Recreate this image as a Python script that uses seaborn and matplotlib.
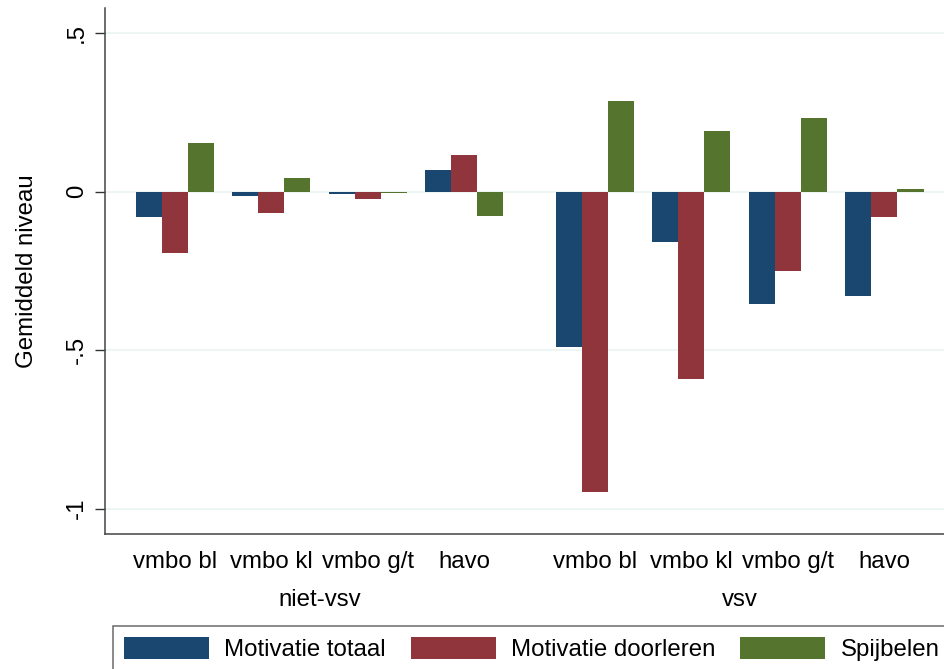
import seaborn as sns
import matplotlib.pyplot as plt
import matplotlib.transforms as mtransforms
import pandas as pd
import numpy as np

# data
schooltypes = ['vmbo bl', 'vmbo kl', 'vmbo g/t', 'havo']
groepen = ['niet-vsv', 'vsv']
reeksen = ['Motivatie totaal', 'Motivatie doorleren', 'Spijbelen']

motivatie_totaal = [-0.080, -0.014, -0.007, 0.068, -0.490, -0.158, -0.353, -0.329]
motivatie_doorleren = [-0.192, -0.067, -0.024, 0.117, -0.946, -0.590, -0.251, -0.079]
spijbelen = [0.154, 0.044, -0.005, -0.077, 0.288, 0.191, 0.234, 0.010]

kleuren = ['#1a476f', '#90353b', '#55752f']

sns.set_style("white")
plt.rcParams['font.family'] = ['Liberation Sans', 'DejaVu Sans']
plt.rcParams['text.color'] = 'black'
plt.rcParams['axes.labelcolor'] = 'black'
plt.rcParams['xtick.color'] = 'black'
plt.rcParams['ytick.color'] = 'black'
fs = 17.3

# numeric positions with an extra gap between the two groups
gap = 0.353
posities = []
labels = []
for g, groep in enumerate(groepen):
    for i, st in enumerate(schooltypes):
        posities.append(i + g * (len(schooltypes) + gap))
        labels.append(st)

rows = []
for naam, waarden in zip(reeksen, [motivatie_totaal, motivatie_doorleren, spijbelen]):
    for p, w in zip(posities, waarden):
        rows.append({'pos': p, 'reeks': naam, 'waarde': w})
df = pd.DataFrame(rows)

fig = plt.figure(figsize=(9.44, 6.69), dpi=100)
ax = fig.add_axes([105 / 944, 1 - 534 / 669, (944 - 105) / 944, (534 - 8.3) / 669])

sns.barplot(data=df, x='pos', y='waarde', hue='reeks', hue_order=reeksen,
            palette=kleuren, native_scale=True, width=0.81, saturation=1,
            linewidth=0, ax=ax)

handles, hlabels = ax.get_legend_handles_labels()
ax.get_legend().remove()

ax.set_xlim(-0.721, 7.97)
ax.set_ylim(-1.080, 0.579)

ax.set_yticks([0.5, 0, -0.5, -1])
ax.set_yticklabels(['.5', '0', '-.5', '-1'], rotation=90, fontsize=fs, va='center')
ax.set_xticks(posities)
ax.set_xticklabels(labels, fontsize=fs)
ax.tick_params(axis='x', length=0, pad=12)
ax.tick_params(axis='y', length=7.2, width=1.0, color='#333333', pad=5, left=True)

ax.yaxis.grid(True, color='#eaf2f3', linewidth=1.1)
ax.xaxis.grid(False)
ax.set_axisbelow(True)

for side in ['top', 'right']:
    ax.spines[side].set_visible(False)
for side in ['left', 'bottom']:
    ax.spines[side].set_color('#444444')
    ax.spines[side].set_linewidth(1.1)

ax.set_xlabel('')
ax.set_ylabel('Gemiddeld niveau', fontsize=fs)
ax.yaxis.set_label_coords((38 - 105) / 839, 0.5)

# group labels under the school types
trans = mtransforms.blended_transform_factory(ax.transData, fig.transFigure)
n = len(schooltypes)
for g, groep in enumerate(groepen):
    midden = np.mean(posities[g * n:(g + 1) * n])
    ax.text(midden, (669 - 589) / 669, groep, fontsize=fs,
            ha='center', va='top', transform=trans)

leg = fig.legend(handles, hlabels, loc='upper left',
                 bbox_to_anchor=(113 / 944, 1 - 626 / 669),
                 ncol=3, fontsize=fs, frameon=True, fancybox=False,
                 handlelength=3.54, handleheight=1.04, handletextpad=0.625,
                 columnspacing=1.05, borderpad=0.45, borderaxespad=0)
leg.get_frame().set_edgecolor('#444444')
leg.get_frame().set_linewidth(1.1)

plt.savefig('out.png', dpi=100)
